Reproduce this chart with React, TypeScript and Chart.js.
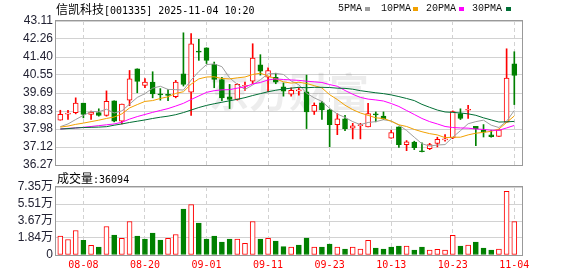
import React, { useEffect, useRef } from 'react';
import { Chart, registerables } from 'chart.js';

Chart.register(...registerables);

const dates = [
  '08-05', '08-06', '08-07', '08-08', '08-11', '08-12', '08-13', '08-14', '08-15', '08-18',
  '08-19', '08-20', '08-21', '08-22', '08-25', '08-26', '08-27', '08-28', '08-29', '09-01',
  '09-02', '09-03', '09-04', '09-05', '09-08', '09-09', '09-10', '09-11', '09-12', '09-15',
  '09-16', '09-17', '09-18', '09-19', '09-22', '09-23', '09-24', '09-25', '09-26', '09-29',
  '09-30', '10-09', '10-10', '10-13', '10-14', '10-15', '10-16', '10-17', '10-20', '10-21',
  '10-22', '10-23', '10-24', '10-27', '10-28', '10-29', '10-30', '10-31', '11-03', '11-04',
];

const openPrices = [
  38.40, 38.69, 38.76, 39.21, 38.67, 38.76, 38.62, 39.32, 38.35, 39.35,
  40.84, 40.05, 40.21, 39.64, 39.62, 39.51, 40.60, 39.73, 41.66, 41.84,
  41.05, 40.33, 39.51, 39.38, 40.01, 40.25, 41.03, 40.44, 40.44, 39.98,
  39.63, 39.79, 39.75, 38.81, 39.22, 38.89, 38.19, 38.46, 38.02, 38.14,
  38.08, 38.68, 38.59, 37.54, 38.08, 37.24, 37.36, 36.94, 37.05, 37.29,
  37.46, 37.56, 38.71, 38.87, 38.11, 37.92, 37.70, 37.63, 38.30, 41.08,
];
const closePrices = [
  38.68, 38.72, 39.21, 38.67, 38.78, 38.62, 39.30, 38.35, 39.16, 40.36,
  40.24, 40.21, 39.65, 39.60, 39.58, 40.21, 40.10, 42.03, 41.63, 41.24,
  40.33, 39.46, 39.38, 40.10, 40.05, 41.35, 40.73, 40.76, 40.21, 39.78,
  39.82, 39.82, 38.79, 39.11, 38.89, 38.19, 38.46, 38.00, 38.13, 38.17,
  38.71, 38.65, 38.46, 37.81, 37.24, 37.37, 37.09, 36.90, 37.24, 37.49,
  37.49, 38.81, 38.48, 38.90, 37.98, 37.83, 37.62, 37.94, 40.40, 40.52,
];
const highPrices = [
  38.87, 38.87, 39.46, 39.21, 38.83, 38.94, 39.79, 39.32, 39.16, 40.76,
  40.84, 40.38, 40.70, 39.90, 39.86, 40.29, 42.55, 42.51, 42.24, 41.84,
  41.16, 40.44, 40.10, 40.13, 40.21, 42.03, 41.51, 40.89, 40.63, 40.17,
  39.94, 39.94, 40.54, 39.22, 39.30, 38.92, 38.71, 38.63, 38.25, 38.25,
  39.20, 38.79, 38.79, 37.92, 38.08, 37.43, 37.40, 37.32, 37.30, 37.59,
  37.71, 38.84, 38.94, 39.11, 38.11, 38.19, 37.92, 37.94, 41.79, 41.65,
];
const lowPrices = [
  38.40, 38.43, 38.70, 38.51, 38.43, 38.59, 38.59, 38.32, 38.22, 39.09,
  39.70, 39.94, 39.46, 39.35, 39.33, 39.46, 40.02, 38.63, 41.24, 41.09,
  39.94, 39.33, 38.95, 39.35, 39.81, 40.13, 40.54, 39.75, 40.13, 39.54,
  39.54, 39.59, 38.00, 38.67, 38.43, 37.14, 37.71, 37.90, 37.51, 37.51,
  38.08, 38.32, 38.43, 37.54, 37.11, 36.95, 37.00, 36.89, 37.00, 37.13,
  37.40, 37.52, 38.43, 38.48, 37.19, 37.60, 37.59, 37.63, 38.30, 39.14,
];

const ma5 = [
  38.09, 38.22, 38.43, 38.63, 38.81, 38.80, 38.92, 38.74, 38.84, 39.16,
  39.48, 39.66, 39.92, 40.01, 39.86, 39.85, 39.83, 40.30, 40.71, 41.04,
  41.07, 40.94, 40.41, 40.10, 39.86, 40.07, 40.32, 40.60, 40.62, 40.57,
  40.26, 40.08, 39.68, 39.46, 39.29, 38.96, 38.69, 38.53, 38.33, 38.19,
  38.29, 38.33, 38.42, 38.36, 38.17, 37.91, 37.59, 37.28, 37.17, 37.22,
  37.24, 37.59, 37.90, 38.23, 38.33, 38.40, 38.16, 38.05, 38.35, 38.86,
];
const ma10 = [
  38.07, 38.12, 38.20, 38.26, 38.33, 38.40, 38.48, 38.55, 38.70, 38.98,
  39.14, 39.29, 39.33, 39.43, 39.51, 39.67, 39.75, 40.11, 40.36, 40.45,
  40.46, 40.38, 40.36, 40.41, 40.45, 40.57, 40.63, 40.50, 40.36, 40.22,
  40.16, 40.20, 40.14, 40.04, 39.93, 39.61, 39.38, 39.11, 38.90, 38.74,
  38.63, 38.51, 38.48, 38.35, 38.18, 38.10, 37.96, 37.85, 37.76, 37.70,
  37.57, 37.59, 37.59, 37.70, 37.78, 37.82, 37.87, 37.98, 38.29, 38.60,
];
const ma20 = [
  37.98, 38.01, 38.03, 38.06, 38.10, 38.14, 38.18, 38.22, 38.30, 38.45,
  38.57, 38.67, 38.77, 38.86, 38.95, 39.07, 39.20, 39.38, 39.55, 39.72,
  39.80, 39.84, 39.85, 39.92, 39.98, 40.12, 40.19, 40.31, 40.36, 40.33,
  40.31, 40.29, 40.25, 40.22, 40.19, 40.09, 40.01, 39.81, 39.63, 39.48,
  39.40, 39.36, 39.31, 39.19, 39.05, 38.86, 38.67, 38.48, 38.33, 38.22,
  38.10, 38.05, 38.03, 38.02, 37.98, 37.96, 37.92, 37.92, 38.03, 38.15,
];
const ma30 = [
  37.98, 38.00, 38.03, 38.05, 38.06, 38.07, 38.09, 38.16, 38.22, 38.29,
  38.35, 38.41, 38.48, 38.54, 38.59, 38.66, 38.76, 38.88, 39.00, 39.10,
  39.18, 39.25, 39.32, 39.39, 39.47, 39.57, 39.66, 39.75, 39.82, 39.88,
  39.92, 39.96, 39.94, 39.96, 39.96, 39.95, 39.92, 39.91, 39.87, 39.80,
  39.75, 39.70, 39.66, 39.60, 39.52, 39.43, 39.33, 39.15, 39.01, 38.88,
  38.79, 38.77, 38.74, 38.70, 38.63, 38.51, 38.41, 38.31, 38.32, 38.34,
];

// volume in 万 (10k shares)
const volumeWan = [
  2.04, 1.68, 2.65, 1.58, 1.04, 0.86, 3.08, 2.15, 1.79, 3.62,
  2.04, 1.72, 2.37, 1.61, 1.79, 2.22, 4.95, 5.45, 3.44, 1.72,
  2.04, 1.40, 1.72, 1.72, 1.25, 3.62, 1.72, 1.79, 1.51, 0.90,
  0.86, 1.08, 1.83, 0.86, 0.86, 1.18, 0.86, 0.65, 0.86, 0.65,
  1.58, 0.75, 0.65, 0.86, 0.97, 0.97, 0.54, 0.86, 0.54, 0.61,
  0.54, 2.12, 0.97, 1.08, 1.40, 0.75, 0.54, 0.65, 6.88, 3.61,
];
// 1 = closed above previous close (red), 0 = below (green)
const volumeRising = [
  1, 1, 1, 0, 1, 0, 1, 0, 1, 1,
  0, 0, 0, 0, 1, 1, 0, 1, 0, 0,
  0, 0, 0, 1, 1, 1, 0, 1, 0, 0,
  1, 0, 0, 1, 0, 0, 1, 0, 1, 1,
  1, 0, 0, 0, 0, 1, 0, 0, 1, 1,
  1, 1, 0, 1, 0, 0, 0, 1, 1, 1,
];

const priceTicks = [36.27, 37.12, 37.98, 38.83, 39.69, 40.55, 41.40, 42.26, 43.11];
const priceTickLabels = ['36.27', '37.12', '37.98', '38.83', '39.69', '40.55', '41.40', '42.26', '43.11'];
const volumeTicks = [0, 1.84, 3.67, 5.51, 7.35];
const volumeTickLabels = ['0', '1.84万', '3.67万', '5.51万', '7.35万'];
const dateTickIndexes = [3, 11, 19, 27, 35, 43, 51, 59];
const lastVolume = '36094';

const RED = '#ff0000';
const GREEN = '#008000';
const GRID = '#d2d2d2';
const FRAME = '#999999';
const LABEL = '#222233';
const MA_COLORS = ['#9e9e9e', '#f2a100', '#ff00ff', '#006f35'];
const X_MIN = -0.56;
const X_MAX = 60;

const framePlugin = {
  id: 'frame',
  beforeDatasetsDraw(chart: any) {
    const { ctx, chartArea: a } = chart;
    ctx.save();
    ctx.strokeStyle = FRAME;
    ctx.lineWidth = 1;
    ctx.strokeRect(Math.round(a.left) - 0.5, Math.round(a.top) - 0.5, Math.round(a.width) + 1, Math.round(a.height) + 1);
    ctx.restore();
  },
};

const watermarkPlugin = {
  id: 'watermark',
  beforeDatasetsDraw(chart: any) {
    const { ctx } = chart;
    ctx.save();
    ctx.font = 'bold 40px "Noto Sans CJK SC"';
    ctx.fillStyle = 'rgba(0,0,0,0.07)';
    ctx.textAlign = 'center';
    ctx.textBaseline = 'middle';
    ctx.fillText('东方财富', 289, 92);
    ctx.restore();
  },
};

const labelFont = { family: '"Liberation Sans", "Noto Sans CJK SC", sans-serif', size: 12 };

function xScale(showLabels: boolean) {
  return {
    type: 'linear',
    min: X_MIN,
    max: X_MAX,
    offset: false,
    afterBuildTicks: (s: any) => {
      s.ticks = dateTickIndexes.map((v) => ({ value: v }));
    },
    afterFit: (s: any) => {
      s.height = showLabels ? 18 : 0;
    },
    ticks: {
      display: showLabels,
      autoSkip: false,
      maxRotation: 0,
      padding: 4,
      color: RED,
      font: { family: '"DejaVu Sans Mono", monospace', size: 10 },
      callback: (v: any) => dates[v],
    },
    grid: { color: GRID, drawTicks: false, offset: false },
    border: { display: false, dash: [4, 3] },
  };
}

export default function App() {
  const mainRef = useRef<HTMLCanvasElement>(null);
  const volRef = useRef<HTMLCanvasElement>(null);

  useEffect(() => {
    const idx = dates.map((_, i) => i);
    const isUp = (i: number) => closePrices[i] >= openPrices[i];
    const maSets = [ma5, ma10, ma20, ma30];

    const lineSets = maSets.map((arr, k) => ({
      type: 'line',
      data: arr.map((v, i) => ({ x: i, y: v })),
      borderColor: MA_COLORS[k],
      borderWidth: 1,
      pointRadius: 0,
      tension: 0,
      order: 3 - k,
    }));

    const main = new Chart(mainRef.current as HTMLCanvasElement, {
      type: 'bar',
      data: {
        datasets: [
          ...lineSets,
          {
            type: 'bar',
            data: idx.map((i) => ({ x: i, y: [openPrices[i], closePrices[i]] })),
            backgroundColor: (c: any) => (isUp(c.dataIndex) ? '#ffffff' : GREEN),
            borderColor: (c: any) => (isUp(c.dataIndex) ? RED : GREEN),
            borderWidth: 1,
            borderSkipped: false,
            barThickness: 5,
            minBarLength: 1,
            grouped: false,
            order: 4,
          },
          {
            type: 'bar',
            data: idx.map((i) => ({ x: i, y: [lowPrices[i], highPrices[i]] })),
            backgroundColor: (c: any) => (isUp(c.dataIndex) ? RED : GREEN),
            borderWidth: 0,
            barThickness: 1,
            grouped: false,
            order: 5,
          },
        ] as any,
      },
      options: {
        responsive: false,
        animation: false,
        devicePixelRatio: 1,
        layout: { padding: { left: 0, top: 21, right: 56, bottom: 111 } },
        plugins: { legend: { display: false }, tooltip: { enabled: false } },
        scales: {
          x: xScale(false) as any,
          y: {
            min: 36.27,
            max: 43.11,
            afterBuildTicks: (s: any) => {
              s.ticks = priceTicks.map((v) => ({ value: v }));
            },
            afterFit: (s: any) => {
              s.width = 56;
            },
            ticks: {
              autoSkip: false,
              color: LABEL,
              font: labelFont,
              padding: 3,
              callback: (_v: any, i: number) => priceTickLabels[i],
            },
            grid: { color: GRID, drawTicks: false },
            border: { display: false },
          },
        },
      },
      plugins: [framePlugin, watermarkPlugin],
    } as any);

    const vol = new Chart(volRef.current as HTMLCanvasElement, {
      type: 'bar',
      data: {
        datasets: [
          {
            data: idx.map((i) => ({ x: i, y: volumeWan[i] })),
            backgroundColor: (c: any) => (volumeRising[c.dataIndex] ? '#ffffff' : GREEN),
            borderColor: (c: any) => (volumeRising[c.dataIndex] ? RED : GREEN),
            borderWidth: 1,
            borderSkipped: false,
            barThickness: 5,
            grouped: false,
          },
        ] as any,
      },
      options: {
        responsive: false,
        animation: false,
        devicePixelRatio: 1,
        layout: { padding: { left: 0, top: 187, right: 56, bottom: 3 } },
        plugins: { legend: { display: false }, tooltip: { enabled: false } },
        scales: {
          x: xScale(true) as any,
          y: {
            min: 0,
            max: 7.35,
            afterBuildTicks: (s: any) => {
              s.ticks = volumeTicks.map((v) => ({ value: v }));
            },
            afterFit: (s: any) => {
              s.width = 56;
            },
            ticks: {
              autoSkip: false,
              color: LABEL,
              font: labelFont,
              padding: 3,
              callback: (_v: any, i: number) => volumeTickLabels[i],
            },
            grid: { color: GRID, drawTicks: false },
            border: { display: false },
          },
        },
      },
      plugins: [framePlugin],
    } as any);

    return () => {
      main.destroy();
      vol.destroy();
    };
  }, []);

  const cjk = { fontFamily: '"Noto Sans CJK SC", sans-serif', fontSize: 12 };
  const mono = { fontFamily: '"DejaVu Sans Mono", monospace', fontSize: 10 };
  const legendMono = { fontFamily: '"Liberation Mono", monospace', fontSize: 10, color: '#111' };
  const legend = [
    { label: '5PMA', text: 338, box: 365 },
    { label: '10PMA', text: 381, box: 413 },
    { label: '20PMA', text: 426, box: 459 },
    { label: '30PMA', text: 472, box: 506 },
  ];

  return (
    <div style={{ position: 'fixed', left: 0, top: 0, width: 578, height: 276, background: '#fff', overflow: 'hidden' }}>
      <canvas ref={mainRef} width={578} height={276} style={{ position: 'absolute', left: 0, top: 0 }} />
      <canvas ref={volRef} width={578} height={276} style={{ position: 'absolute', left: 0, top: 0 }} />
      <div style={{ position: 'absolute', left: 56, top: 2, lineHeight: '14px', whiteSpace: 'nowrap', color: '#000' }}>
        <span style={cjk}>信凯科技</span>
        <span style={mono}>[001335] 2025-11-04 10:20</span>
      </div>
      {legend.map((item, k) => (
        <React.Fragment key={item.label}>
          <div style={{ position: 'absolute', left: item.text, top: 2, lineHeight: '14px', whiteSpace: 'nowrap', ...legendMono }}>
            {item.label}
          </div>
          <div style={{ position: 'absolute', left: item.box, top: 7, width: 5, height: 4, background: MA_COLORS[k] }} />
        </React.Fragment>
      ))}
      <div style={{ position: 'absolute', left: 57, top: 171, lineHeight: '14px', whiteSpace: 'nowrap', color: '#000' }}>
        <span style={cjk}>成交量</span>
        <span style={mono}>:{lastVolume}</span>
      </div>
    </div>
  );
}
